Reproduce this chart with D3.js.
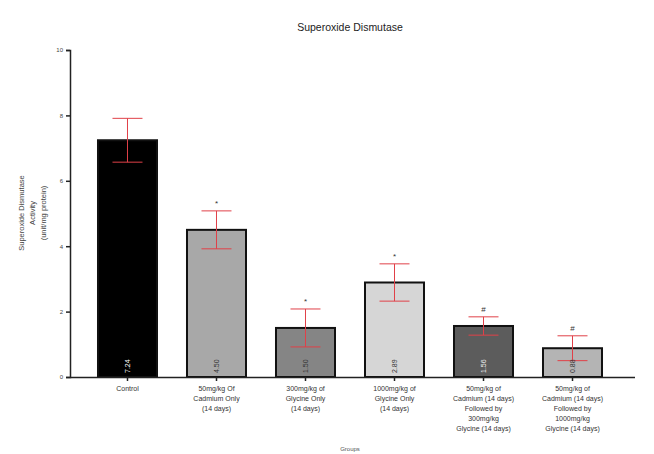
<!DOCTYPE html>
<html>
<head>
<meta charset="utf-8">
<script src="https://cdn.jsdelivr.net/npm/d3@7"></script>
<style>
  html, body { margin: 0; padding: 0; background: #fff; }
  svg { display: block; font-family: "Liberation Sans", Arial, sans-serif; }
</style>
</head>
<body>
<svg id="chart" width="654" height="454"></svg>
<script>
// Superoxide dismutase activity per treatment group
const groups = [
  ["Control"],
  ["50mg/kg Of", "Cadmium Only", "(14 days)"],
  ["300mg/kg of", "Glycine Only", "(14 days)"],
  ["1000mg/kg of", "Glycine Only", "(14 days)"],
  ["50mg/kg of", "Cadmium (14 days)", "Followed by", "300mg/kg", "Glycine (14 days)"],
  ["50mg/kg of", "Cadmium (14 days)", "Followed by", "1000mg/kg", "Glycine (14 days)"]
];
const means = [7.24, 4.50, 1.50, 2.89, 1.56, 0.88];
const errors = [0.67, 0.58, 0.58, 0.57, 0.28, 0.38];
const marks = ["", "*", "*", "*", "#", "#"];
const fills = ["#000000", "#a8a8a8", "#858585", "#d6d6d6", "#5c5c5c", "#b4b4b4"];
const labelColors = ["#ffffff", "#333333", "#333333", "#333333", "#eeeeee", "#333333"];
const yTicks = [0, 2, 4, 6, 8, 10];

const svg = d3.select("#chart");
const ids = groups.map((g, i) => i);

const x = d3.scaleBand().domain(ids).range([68, 632]).padding(0.337);
const y = d3.scaleLinear().domain([0, 10]).range([377, 50]);

// Title
svg.append("text")
  .attr("x", 350).attr("y", 31)
  .attr("text-anchor", "middle")
  .attr("font-size", 10.5)
  .attr("fill", "#222")
  .text("Superoxide Dismutase");

// Bars
svg.selectAll("rect.bar")
  .data(means)
  .join("rect")
  .attr("class", "bar")
  .attr("x", (d, i) => x(i))
  .attr("width", x.bandwidth())
  .attr("y", d => y(d))
  .attr("height", d => y(0) - y(d))
  .attr("fill", (d, i) => fills[i])
  .attr("stroke", "#111")
  .attr("stroke-width", 2);

// Error bars
const eb = svg.append("g").attr("stroke", "#e04048").attr("stroke-width", 1);
means.forEach((m, i) => {
  const cx = x(i) + x.bandwidth() / 2;
  eb.append("line").attr("x1", cx).attr("x2", cx)
    .attr("y1", y(m - errors[i])).attr("y2", y(m + errors[i]));
  [m - errors[i], m + errors[i]].forEach(v => {
    eb.append("line").attr("x1", cx - 15).attr("x2", cx + 15)
      .attr("y1", y(v)).attr("y2", y(v));
  });
});

// Significance markers
svg.selectAll("text.mark")
  .data(means)
  .join("text")
  .attr("class", "mark")
  .attr("x", (d, i) => x(i) + x.bandwidth() / 2)
  .attr("y", (d, i) => y(d + errors[i]) - 5)
  .attr("text-anchor", "middle")
  .attr("font-size", 8)
  .attr("fill", "#333")
  .text((d, i) => marks[i]);

// Value labels inside bars
svg.selectAll("text.val")
  .data(means)
  .join("text")
  .attr("class", "val")
  .attr("transform", (d, i) => `translate(${x(i) + x.bandwidth() / 2 + 2.5},${y(0) - 4}) rotate(-90)`)
  .attr("font-size", 7)
  .attr("fill", (d, i) => labelColors[i])
  .text(d => d.toFixed(2));

// Axes
const yAxis = svg.append("g")
  .attr("transform", "translate(70,0)")
  .call(d3.axisLeft(y).tickValues(yTicks).tickSize(4).tickFormat(d3.format("d")));
yAxis.select(".domain").attr("stroke", "#222").attr("stroke-width", 1.5);
yAxis.selectAll(".tick line").attr("stroke", "#222").attr("stroke-width", 1.5);
yAxis.selectAll("text").attr("font-size", 6).attr("fill", "#444");

const xAxis = svg.append("g")
  .attr("transform", "translate(0,377)")
  .call(d3.axisBottom(x).tickSize(4).tickSizeOuter(0).tickFormat(""));
xAxis.select(".domain").attr("d", "M70,0.5H635").attr("stroke", "#222").attr("stroke-width", 1.5);
xAxis.selectAll(".tick line").attr("stroke", "#222").attr("stroke-width", 1.5);

// Multi-line group labels
xAxis.selectAll(".tick").each(function (d) {
  const t = d3.select(this).append("text")
    .attr("y", 14)
    .attr("text-anchor", "middle")
    .attr("font-size", 7)
    .attr("fill", "#333");
  groups[d].forEach((line, k) => {
    t.append("tspan").attr("x", 0).attr("dy", k === 0 ? 0 : 10).text(line);
  });
});

// Axis titles
svg.append("text")
  .attr("x", 350).attr("y", 451)
  .attr("text-anchor", "middle")
  .attr("font-size", 6)
  .attr("fill", "#555")
  .text("Groups");

const yTitle = svg.append("text")
  .attr("transform", "translate(34,213) rotate(-90)")
  .attr("text-anchor", "middle")
  .attr("font-size", 7.5)
  .attr("fill", "#444");
["Superoxide Dismutase", "Activity", "(unit/mg protein)"].forEach((line, k) => {
  yTitle.append("tspan").attr("x", 0).attr("dy", k === 0 ? -10 : 11).text(line);
});
</script>
</body>
</html>
